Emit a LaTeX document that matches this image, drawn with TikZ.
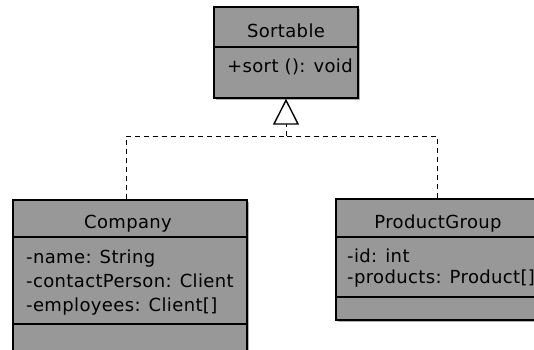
\documentclass[tikz,border=0pt]{standalone}
\usepackage{fontspec}
\setmainfont{DejaVu Sans}
\newfontfamily\umlfont[LetterSpace=2]{DejaVu Sans}
\usetikzlibrary{arrows.meta,shadows}
\definecolor{umlgray}{RGB}{152,152,152}

\begin{document}
\begin{tikzpicture}[x=1pt,y=-1pt,
        umlclass/.style={draw=black,line width=1.4pt,fill=umlgray,inner sep=0pt,
            drop shadow={shadow xshift=2pt,shadow yshift=-2pt,fill=black!30,opacity=1}},
        classname/.style={font=\umlfont\fontsize{18}{22}\selectfont,anchor=base,inner sep=0pt},
        member/.style={font=\umlfont\fontsize{18}{22}\selectfont,anchor=base west,inner sep=0pt},
        divider/.style={line width=1.4pt},
        realize/.style={line width=1pt,dash pattern=on 5pt off 4pt}]
        \useasboundingbox (0,0) rectangle (534,349);
        % class boxes
        \node[umlclass,minimum width=144pt,minimum height=91pt] (sortable) at (286,52.5) {};
        \node[umlclass,minimum width=234pt,minimum height=156pt] (company) at (130,278) {};
        \node[umlclass,minimum width=202pt,minimum height=121pt] (prodgroup) at (437,259.5) {};
        % compartments
        \draw[divider] (sortable.west |- 0,47) -- (sortable.east |- 0,47);
        \draw[divider] (company.west |- 0,237) -- (company.east |- 0,237);
        \draw[divider] (company.west |- 0,324) -- (company.east |- 0,324);
        \draw[divider] (prodgroup.west |- 0,237) -- (prodgroup.east |- 0,237);
        \draw[divider] (prodgroup.west |- 0,297) -- (prodgroup.east |- 0,297);
        % texts
        \node[classname] (sortablename) at (286,37) {Sortable};
        \node[member] (sortop) at (227,72) {+sort (): void};
        \node[classname] (companyname) at (128,228) {Company};
        \node[member] (compname) at (26,263) {-name: String};
        \node[member] (compcontact) at (26,287) {-contactPerson: Client};
        \node[member] (compemployees) at (26,311) {-employees: Client[]};
        \node[classname] (prodgroupname) at (438,228) {ProductGroup};
        \node[member] (pgid) at (347,262) {-id: int};
        \node[member] (pgproducts) at (347,283) {-products: Product[]};
        % realization
        \coordinate (junction) at (286,136);
        \draw[realize] ([xshift=-4pt]company.north) |- (junction);
        \draw[realize] (prodgroup.north) |- (junction);
        \draw[realize,-{Triangle[open,length=26pt,width=26pt,line width=1.4pt]}] (junction) -- (sortable.south);
    \end{tikzpicture}
\end{document}
